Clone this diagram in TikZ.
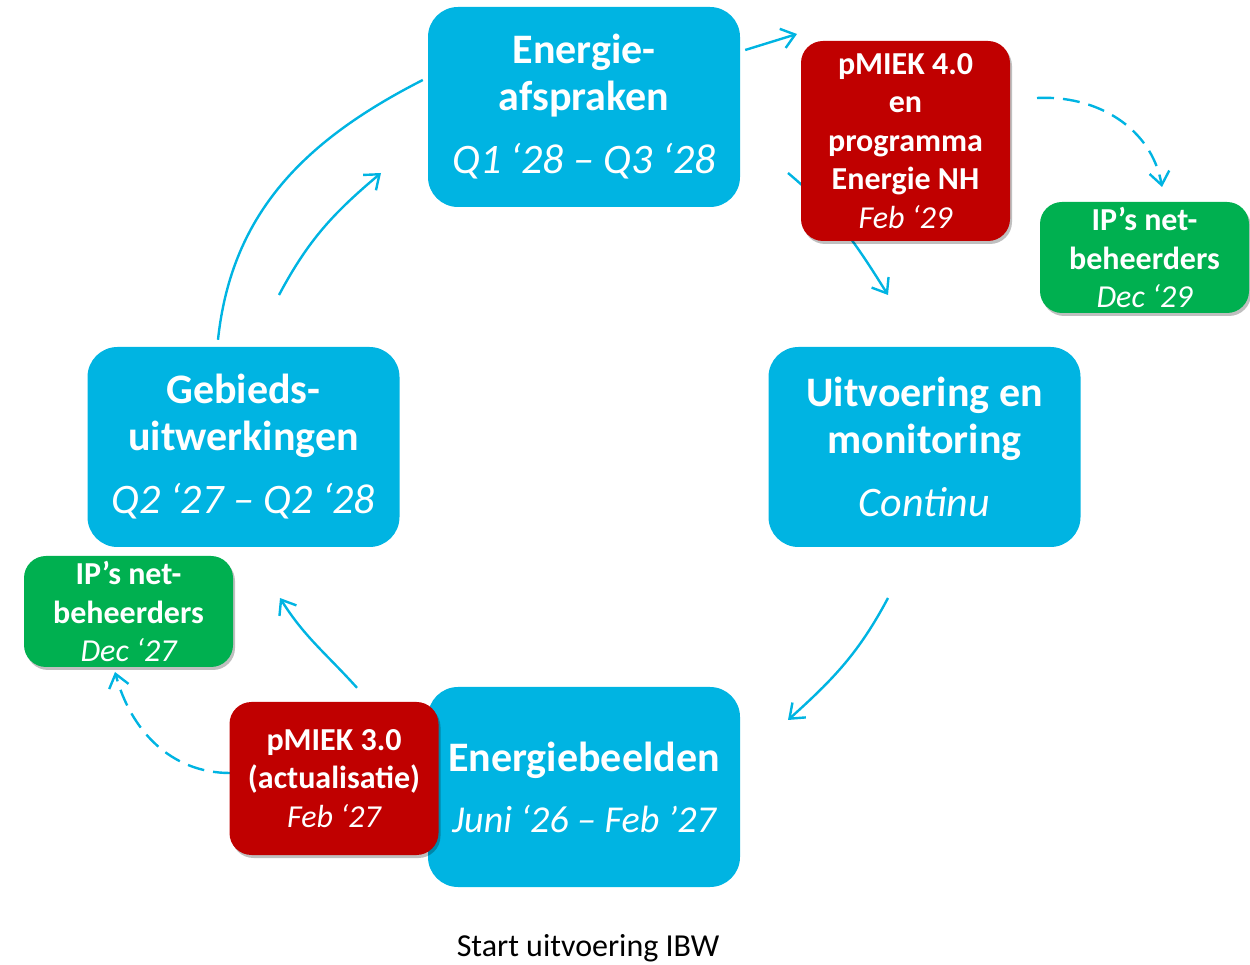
\documentclass[tikz,border=0pt]{standalone}
\usepackage{fontspec}
\setmainfont{Carlito}
\usetikzlibrary{arrows.meta,shadows}

\definecolor{ibwblue}{RGB}{0,180,226}
\definecolor{ibwred}{RGB}{192,0,0}
\definecolor{ibwgreen}{RGB}{0,176,80}

\tikzset{
  bluebox/.style={fill=ibwblue, text=white, rounded corners=30pt, minimum width=312pt, minimum height=200pt,
    inner sep=0pt, align=center, font=\fontsize{42}{47}\selectfont\bfseries},
  smallbox/.style={text=white, rounded corners=22pt, minimum width=209pt, inner sep=0pt, align=center,
    font=\fontsize{32}{38.5}\selectfont\bfseries,
    drop shadow={shadow xshift=2pt, shadow yshift=-3pt, opacity=0.25, fill=black}},
  redbox/.style={smallbox, fill=ibwred},
  greenbox/.style={smallbox, fill=ibwgreen, minimum height=111pt},
  flow/.style={draw=ibwblue, line width=2.4pt, -{Straight Barb[length=13pt,width=20pt]}},
  dashflow/.style={flow, dash pattern=on 17pt off 9pt},
}

\begin{document}
\begin{tikzpicture}[x=1pt,y=1pt]
  \useasboundingbox (0,0) rectangle (1250,964);
  % phases
  \node[bluebox] (afspraken) at (584,857) {Energie-\\afspraken\\[16pt]{\mdseries\itshape Q1 ‘28 – Q3 ‘28}};
  \node[bluebox] (uitvoering) at (924.5,517) {Uitvoering en\\monitoring\\[16pt]{\mdseries\itshape Continu}};
  \node[bluebox] (beelden) at (584,177) {Energiebeelden\\[14pt]{\mdseries\itshape\fontsize{38}{47}\selectfont Juni ‘26 – Feb ’27}};
  \node[bluebox] (gebied) at (243.5,517) {Gebieds-\\uitwerkingen\\[16pt]{\mdseries\itshape Q2 ‘27 – Q2 ‘28}};

  % loose arrow ends
  \coordinate (pm4in) at (788,791);
  \coordinate (pm4out) at (888,669);
  \coordinate (nb29from) at (1037,866);
  \coordinate (nb29to) at (1162,777);
  \coordinate (uitfrom) at (888,366);
  \coordinate (beeldto) at (788,244);
  \coordinate (gebto) at (280,366);
  \coordinate (nb27to) at (115,292);
  \coordinate (gebfrom) at (279,669);
  \coordinate (afsto) at (381,791);

  \draw[flow] ([xshift=5pt,yshift=57pt]afspraken.east) -- ([xshift=-4pt,yshift=73pt]afspraken.east -| 801,0);
  \draw[flow] (pm4in) to[out=-40,in=122] (pm4out);
  \draw[dashflow] (nb29from) to[out=3,in=100] (nb29to);
  \draw[flow] (uitfrom) to[out=-118,in=42] (beeldto);
  \draw[flow] ([xshift=23pt,yshift=-1pt]beelden.north west -| 334,0) to[out=132,in=-58] (gebto);
  \draw[dashflow] (230,191) to[out=180,in=-75] (nb27to);
  \draw[draw=ibwblue, line width=2.4pt] ([xshift=-25.5pt,yshift=7pt]gebied.north) to[out=84,in=-153] ([xshift=-5pt,yshift=27pt]afspraken.west);
  \draw[flow] (gebfrom) to[out=62,in=-140] (afsto);

  % milestones
  \node[redbox, minimum height=200pt] (pmiek4) at (905.5,823) {pMIEK 4.0\\en\\programma\\Energie NH\\{\mdseries\itshape Feb ‘29}};
  \node[greenbox] (nb29) at (1144.5,706.5) {IP’s net-\\beheerders\\{\mdseries\itshape Dec ‘29}};
  \node[redbox, minimum height=153pt] (pmiek3) at (334,185.5) {pMIEK 3.0\\(actualisatie)\\{\mdseries\itshape Feb ‘27}};
  \node[greenbox] (nb27) at (128.5,352.5) {IP’s net-\\beheerders\\{\mdseries\itshape Dec ‘27}};

  \node[font=\fontsize{32}{38}\selectfont, anchor=base] (start) at (588,8) {Start uitvoering IBW};
\end{tikzpicture}
\end{document}
